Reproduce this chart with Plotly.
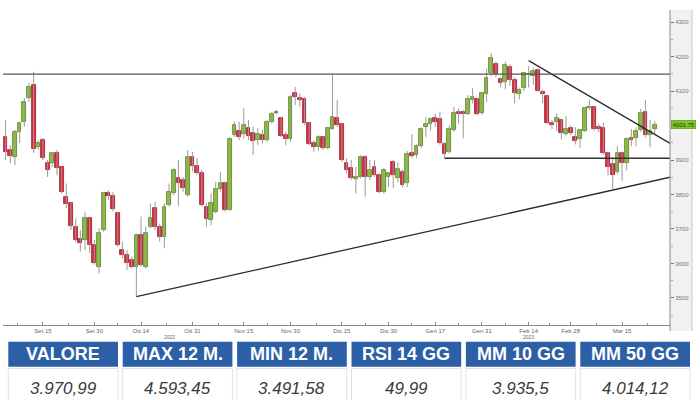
import plotly.graph_objects as go

# ---- data: daily candles, trading-day index 0 = 2 Sep 2022 ... 139 = 24 Mar 2023
opens = [3967, 3929, 3908, 3982, 4011, 4079, 4117, 3937, 3958, 3890,
         3890, 3921, 3879, 3794, 3776, 3707, 3670, 3668, 3731, 3653,
         3591, 3697, 3803, 3796, 3745, 3639, 3625, 3610, 3591, 3682,
         3591, 3707, 3760, 3707, 3678, 3769, 3803, 3848, 3842, 3798,
         3909, 3882, 3863, 3765, 3726, 3750, 3815, 3832, 3755, 3972,
         3985, 3975, 3992, 3977, 3958, 3972, 3958, 4011, 4040, 4021,
         3972, 3960, 4095, 4080, 4076, 4006, 3948, 3937, 3966, 3934,
         3989, 4021, 4003, 3890, 3876, 3844, 3851, 3909, 3851, 3879,
         3856, 3808, 3850, 3895, 3849, 3866, 3832, 3919, 3914, 3940,
         3995, 4004, 4021, 4020, 3946, 3924, 3987, 4040, 4038, 4033,
         4074, 4076, 4036, 4090, 4152, 4178, 4134, 4127, 4170, 4132,
         4090, 4108, 4148, 4144, 4161, 4098, 4086, 4008, 4010, 4016,
         3975, 3992, 3967, 3960, 3985, 4050, 4054, 3995, 3992, 3919,
         3888, 3866, 3919, 3892, 3965, 3963, 3987, 4040, 3972, 3989]
highs = [4016, 3943, 3987, 4011, 4080, 4123, 4156, 3958, 3964, 3900,
         3924, 3929, 3880, 3832, 3779, 3731, 3697, 3750, 3736, 3668,
         3702, 3808, 3813, 3808, 3750, 3663, 3639, 3620, 3687, 3736,
         3707, 3774, 3779, 3716, 3774, 3832, 3876, 3900, 3851, 3929,
         3924, 3905, 3871, 3774, 3803, 3837, 3866, 3837, 3967, 4011,
         4011, 4050, 4016, 3996, 3992, 3987, 4016, 4040, 4045, 4024,
         3982, 4088, 4112, 4093, 4083, 4011, 3958, 3972, 3968, 3996,
         4146, 4074, 4006, 3905, 3900, 3880, 3914, 3914, 3900, 3900,
         3861, 3876, 3866, 3900, 3893, 3873, 3926, 3975, 3946, 3995,
         4025, 4023, 4035, 4040, 3953, 4001, 4054, 4050, 4045, 4088,
         4108, 4079, 4098, 4165, 4209, 4185, 4140, 4185, 4178, 4140,
         4110, 4155, 4172, 4168, 4165, 4105, 4090, 4016, 4035, 4018,
         4027, 4000, 3995, 3990, 4054, 4075, 4057, 4005, 4008, 3925,
         3905, 3940, 3925, 3965, 3990, 3995, 4048, 4074, 4016, 4012]
lows = [3900, 3891, 3885, 3949, 3996, 4069, 3920, 3929, 3900, 3851,
        3880, 3856, 3803, 3760, 3697, 3663, 3634, 3639, 3630, 3596,
        3571, 3692, 3784, 3750, 3649, 3615, 3581, 3586, 3504, 3591,
        3586, 3702, 3697, 3663, 3644, 3765, 3798, 3767, 3808, 3794,
        3866, 3856, 3765, 3707, 3711, 3745, 3808, 3750, 3753, 3967,
        3958, 3963, 3958, 3914, 3943, 3948, 3953, 4006, 4033, 3967,
        3943, 3953, 4059, 4054, 4001, 3943, 3924, 3927, 3929, 3931,
        3987, 3996, 3895, 3861, 3842, 3803, 3847, 3794, 3842, 3851,
        3803, 3803, 3822, 3818, 3835, 3820, 3822, 3905, 3905, 3935,
        3966, 3985, 3995, 3944, 3905, 3919, 3982, 4006, 3963, 4030,
        4064, 4030, 4031, 4068, 4143, 4140, 4110, 4105, 4115, 4064,
        4076, 4100, 4110, 4118, 4098, 4065, 4004, 3990, 3985, 3960,
        3970, 3972, 3945, 3935, 3982, 4045, 3985, 3980, 3915, 3856,
        3815, 3860, 3840, 3870, 3940, 3940, 3982, 3965, 3937, 3975]
closes = [3924, 3912, 3982, 4006, 4069, 4112, 3931, 3948, 3905, 3871,
          3919, 3876, 3808, 3772, 3709, 3668, 3660, 3731, 3653, 3600,
          3689, 3803, 3796, 3757, 3653, 3625, 3600, 3591, 3682, 3596,
          3687, 3731, 3707, 3676, 3765, 3808, 3871, 3833, 3818, 3909,
          3882, 3863, 3770, 3728, 3776, 3815, 3834, 3755, 3961, 4001,
          3966, 4001, 3970, 3956, 3975, 3958, 4011, 4033, 4035, 3970,
          3960, 4083, 4083, 4074, 4006, 3946, 3937, 3966, 3934, 3992,
          4024, 4001, 3900, 3871, 3847, 3851, 3908, 3851, 3871, 3856,
          3808, 3871, 3862, 3856, 3873, 3828, 3916, 3912, 3940, 3990,
          4004, 4018, 4011, 3948, 3917, 3989, 4037, 4033, 4032, 4076,
          4083, 4033, 4094, 4138, 4195, 4150, 4124, 4175, 4132, 4093,
          4104, 4151, 4150, 4159, 4101, 4091, 4006, 4001, 4021, 3977,
          3989, 3977, 3956, 3987, 4050, 4054, 3989, 3990, 3919, 3881,
          3857, 3919, 3892, 3960, 3958, 3985, 4037, 3972, 3985, 4001.75]

tick_idx = [8, 19, 29, 40, 51, 61, 72, 82, 92, 102, 112, 121, 132]
tick_text = ["Set 15", "Set 30", "Ott 14", "Ott 31", "Nov 15", "Nov 30", "Dic 15",
             "Dic 30", "Gen 17", "Gen 31", "Feb 14", "Feb 28", "Mar 15"]
year_idx = [35, 112]
year_text = ["2022", "2023"]
# 4000 is hidden behind the last-price box in the original
y_ticks = [3500, 3600, 3700, 3800, 3900, 4100, 4200, 4300]

resistance_level = 4149
support_level = 3905
support_start_idx = 94
down_tl_x = [112, 142.3]
down_tl_y = [4188, 3948]
up_tl_x = [28, 142.3]
up_tl_y = [3504, 3850]

table_headers = ["VALORE", "MAX 12 M.", "MIN 12 M.", "RSI 14 GG", "MM 10 GG", "MM 50 GG"]
table_values = ["3.970,99", "4.593,45", "3.491,58", "49,99", "3.935,5", "4.014,12"]

# ---- styling
GREEN, GREEN_EDGE = "#88c62e", "#557f1a"
RED, RED_EDGE = "#e3263e", "#9e1a2b"
WICK = "#9a9a9a"
BLUE = "#2c5fa6"

W, H = 700, 400
ML, MR, MT, MB = 3, 30, 10, 75
PW, PH = W - ML - MR, H - MT - MB
X_RANGE = [-0.56, 142.27]
Y_RANGE = [3421.7, 4334.8]

n = len(closes)
idx = list(range(n))
up = [c >= o for o, c in zip(opens, closes)]

fig = go.Figure()

# wicks
wx, wy = [], []
for i in idx:
    wx += [i, i, None]
    wy += [lows[i], highs[i], None]
fig.add_trace(go.Scatter(x=wx, y=wy, mode="lines", line=dict(color=WICK, width=1),
                         hoverinfo="skip"))

# bodies
base = [min(o, c) for o, c in zip(opens, closes)]
height = [max(abs(c - o), 1.5) for o, c in zip(opens, closes)]
fig.add_trace(go.Bar(x=idx, y=height, base=base, width=0.8,
                     marker=dict(color=[GREEN if u else RED for u in up],
                                 line=dict(color=[GREEN_EDGE if u else RED_EDGE for u in up], width=0.8))))

# trend lines
fig.add_trace(go.Scatter(x=down_tl_x, y=down_tl_y, mode="lines",
                         line=dict(color="#2b2b2b", width=1.3), hoverinfo="skip"))
fig.add_trace(go.Scatter(x=up_tl_x, y=up_tl_y, mode="lines",
                         line=dict(color="#2b2b2b", width=1.3), hoverinfo="skip"))
fig.add_trace(go.Scatter(x=[support_start_idx, X_RANGE[1]], y=[support_level, support_level],
                         mode="lines", line=dict(color="#333333", width=1.3), hoverinfo="skip"))
fig.add_shape(type="line", xref="paper", x0=0, x1=1, yref="y",
              y0=resistance_level, y1=resistance_level, line=dict(color="#555555", width=1.2))

# right grey strip
fig.add_shape(type="rect", xref="paper", yref="paper", x0=1, x1=1 + 22 / PW,
              y0=-6 / PH, y1=1, fillcolor="#f1f1f1", line=dict(width=0), layer="below")
fig.add_shape(type="line", xref="paper", yref="paper", x0=1 + 22 / PW, x1=1 + 22 / PW,
              y0=-6 / PH, y1=1, line=dict(color="#c8c8c8", width=1))
fig.add_shape(type="line", xref="paper", yref="paper", x0=1, x1=1,
              y0=-6 / PH, y1=1, line=dict(color="#8a8a8a", width=1))

# last price label
fig.add_annotation(xref="paper", x=1 + 1 / PW, xanchor="left", yref="y", y=closes[-1],
                   text=f"{closes[-1]:.2f}", showarrow=False,
                   font=dict(size=6, color="#1e3a08", family="Liberation Sans"),
                   bgcolor="#7fc52a", bordercolor="#4f8a12", borderwidth=0.5, borderpad=1)

# year labels
for xi, t in zip(year_idx, year_text):
    fig.add_annotation(x=xi, xref="x", yref="paper", y=-12 / PH, yanchor="middle",
                       text=t, showarrow=False,
                       font=dict(size=5, color="#666666", family="Liberation Sans"))

# table
def px_x(x):
    return (x - ML) / PW

def px_y(y):
    return (H - MB - y) / PH

cell_w, cell_step, x_start = 109.7, 114.4, 8.3
for k, (hd, val) in enumerate(zip(table_headers, table_values)):
    x0 = x_start + k * cell_step
    x1 = x0 + cell_w
    fig.add_shape(type="rect", xref="paper", yref="paper", x0=px_x(x0), x1=px_x(x1),
                  y0=px_y(366.7), y1=px_y(341.7), fillcolor=BLUE, line=dict(width=0))
    fig.add_shape(type="rect", xref="paper", yref="paper", x0=px_x(x0), x1=px_x(x1),
                  y0=px_y(402), y1=px_y(368.5), fillcolor="white",
                  line=dict(color="#e2e2e2", width=1))
    fig.add_annotation(xref="paper", yref="paper", x=px_x((x0 + x1) / 2), y=px_y(354.2),
                       xanchor="center", yanchor="middle",
                       text=f"<b>{hd}</b>", showarrow=False,
                       font=dict(size=18, color="white", family="Liberation Sans"))
    fig.add_annotation(xref="paper", yref="paper", x=px_x((x0 + x1) / 2), y=px_y(388),
                       xanchor="center", yanchor="middle",
                       text=f"<i>{val}</i>", showarrow=False,
                       font=dict(size=17, color="#3a3a3a", family="Liberation Sans"))

minor_x = [(a + b) / 2 for a, b in zip(tick_idx[:-1], tick_idx[1:])] + [tick_idx[0] - 5.5, tick_idx[-1] + 5.5]

fig.update_layout(
    width=W, height=H, margin=dict(l=ML, r=MR, t=MT, b=MB, autoexpand=False),
    paper_bgcolor="white", plot_bgcolor="white", showlegend=False,
    xaxis=dict(range=X_RANGE, tickvals=tick_idx, ticktext=tick_text, showgrid=False,
               zeroline=False, showline=True, linecolor="#8a8a8a", linewidth=1,
               ticks="inside", ticklen=3, tickcolor="#8a8a8a", automargin=False,
               tickfont=dict(size=6, color="#666666", family="Liberation Sans"),
               minor=dict(tickvals=minor_x, ticks="inside", ticklen=2, tickcolor="#999999"),
               fixedrange=True),
    yaxis=dict(range=Y_RANGE, side="right", tickvals=y_ticks, showgrid=False,
               zeroline=False, showline=False, ticks="outside", ticklen=3, tickcolor="#777777",
               automargin=False,
               tickfont=dict(size=6, color="#777777", family="Liberation Sans"),
               minor=dict(dtick=50, tick0=3500, ticks="outside", ticklen=2, tickcolor="#aaaaaa"),
               fixedrange=True),
    bargap=0,
)

fig.write_html("out.html", config={"displayModeBar": False},
               post_script="document.body.style.margin='0';document.body.style.overflow='hidden';")
